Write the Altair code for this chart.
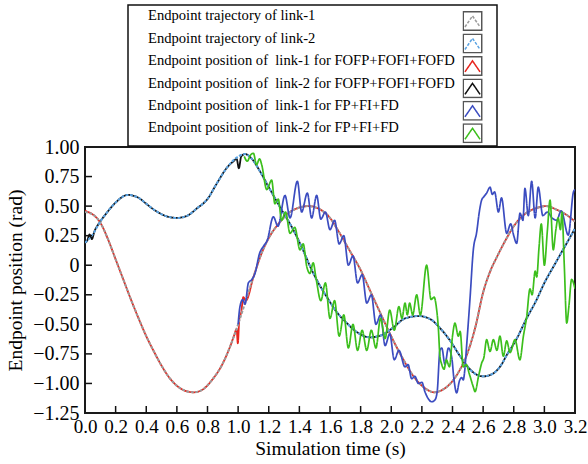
import altair as alt
import pandas as pd

# ---- series (legend order) ----
KEYS = ["traj1", "traj2", "fofp1", "fofp2", "fp1", "fp2"]
SERIES = [
    "Endpoint trajectory of link-1",
    "Endpoint trajectory of link-2",
    "Endpoint position of\u00a0 link-1 for FOFP+FOFI+FOFD",
    "Endpoint position of\u00a0 link-2 for FOFP+FOFI+FOFD",
    "Endpoint position of\u00a0 link-1 for FP+FI+FD",
    "Endpoint position of\u00a0 link-2 for FP+FI+FD",
]
FRAME_KEYS = ["frame-" + k for k in KEYS]
COLORS = ["#9c9c9c", "#5ba3e2", "#e8261e", "#111111", "#3b4cc0", "#3cbf1c"]
DASHES = [[3, 1.5], [3, 1.5], [1, 0], [1, 0], [1, 0], [1, 0]]

# ---- reference trajectory, link-1 ----
traj1_t = [0.00, 0.05, 0.10, 0.15, 0.20, 0.25, 0.30, 0.35, 0.40, 0.45, 0.50, 0.55,
           0.60, 0.65, 0.71, 0.77, 0.83, 0.90, 0.95, 1.00, 1.05, 1.10, 1.15, 1.20,
           1.27, 1.35, 1.46, 1.55, 1.60, 1.65, 1.73, 1.80, 1.86, 1.92, 1.97, 2.03,
           2.08, 2.13, 2.17, 2.22, 2.28, 2.34, 2.40, 2.45, 2.49, 2.55, 2.60, 2.65,
           2.69, 2.75, 2.80, 2.87, 2.94, 3.01, 3.08, 3.14, 3.20]
traj1_v = [0.45, 0.43, 0.36, 0.22, 0.05, -0.12, -0.29, -0.45, -0.60, -0.73, -0.85, -0.95,
           -1.02, -1.06, -1.075, -1.05, -0.97, -0.83, -0.68, -0.50, -0.30, -0.10, 0.09, 0.23,
           0.36, 0.46, 0.50, 0.46, 0.40, 0.30, 0.12, -0.04, -0.21, -0.38, -0.52, -0.68,
           -0.80, -0.91, -0.98, -1.04, -1.075, -1.05, -0.98, -0.88, -0.77, -0.52, -0.23, -0.04,
           0.07, 0.22, 0.33, 0.43, 0.48, 0.50, 0.47, 0.43, 0.37]

# ---- reference trajectory, link-2 ----
traj2_t = [0.00, 0.05, 0.10, 0.14, 0.20, 0.28, 0.35, 0.40, 0.45, 0.52, 0.60, 0.67,
           0.73, 0.80, 0.86, 0.93, 0.99, 1.045, 1.09, 1.14, 1.20, 1.27, 1.36, 1.42,
           1.47, 1.52, 1.58, 1.64, 1.71, 1.78, 1.86, 1.94, 2.01, 2.09, 2.18, 2.26,
           2.31, 2.38, 2.45, 2.50, 2.55, 2.60, 2.66, 2.72, 2.75, 2.82, 2.88, 2.95,
           3.00, 3.06, 3.13, 3.20]
traj2_v = [0.19, 0.26, 0.37, 0.44, 0.53, 0.595, 0.57, 0.52, 0.47, 0.42, 0.40, 0.42,
           0.48, 0.56, 0.69, 0.83, 0.91, 0.94, 0.90, 0.80, 0.66, 0.50, 0.30, 0.14,
           -0.01, -0.14, -0.27, -0.39, -0.49, -0.57, -0.61, -0.59, -0.53, -0.45, -0.43, -0.46,
           -0.52, -0.63, -0.77, -0.86, -0.92, -0.94, -0.92, -0.84, -0.77, -0.62, -0.46, -0.29,
           -0.15, -0.01, 0.15, 0.31]

# ---- FOFP+FOFI+FOFD, link-1 ----
fofp1_t = [0.00, 0.02, 0.05, 0.10, 0.15, 0.20, 0.25, 0.30, 0.35, 0.40, 0.45, 0.50, 0.55,
           0.60, 0.65, 0.71, 0.77, 0.83, 0.90, 0.95, 0.975, 0.99, 0.998, 1.008, 1.02, 1.034,
           1.05, 1.10, 1.15, 1.20, 1.27, 1.35, 1.46, 1.55, 1.60, 1.65, 1.73, 1.80, 1.86,
           1.92, 1.97, 2.03, 2.08, 2.13, 2.17, 2.22, 2.28, 2.34, 2.40, 2.45, 2.49, 2.55,
           2.60, 2.65, 2.69, 2.75, 2.80, 2.87, 2.94, 3.01, 3.08, 3.14, 3.20]
fofp1_v = [0.46, 0.45, 0.43, 0.36, 0.22, 0.05, -0.12, -0.29, -0.45, -0.60, -0.73, -0.85, -0.95,
           -1.02, -1.06, -1.075, -1.05, -0.97, -0.83, -0.68, -0.59, -0.54, -0.66, -0.45, -0.40, -0.27,
           -0.30, -0.10, 0.09, 0.23, 0.36, 0.46, 0.50, 0.46, 0.40, 0.30, 0.12, -0.04, -0.21,
           -0.38, -0.52, -0.68, -0.80, -0.91, -0.98, -1.04, -1.075, -1.05, -0.98, -0.88, -0.77, -0.52,
           -0.23, -0.04, 0.07, 0.22, 0.33, 0.43, 0.48, 0.50, 0.47, 0.43, 0.37]

# ---- FOFP+FOFI+FOFD, link-2 ----
fofp2_t = [0.00, 0.015, 0.03, 0.045, 0.06, 0.10, 0.14, 0.20, 0.28, 0.35, 0.40, 0.45, 0.52,
           0.60, 0.67, 0.73, 0.80, 0.86, 0.93, 0.97, 0.99, 1.005, 1.02, 1.045, 1.09, 1.14,
           1.20, 1.27, 1.36, 1.42, 1.47, 1.52, 1.58, 1.64, 1.71, 1.78, 1.86, 1.94, 2.01,
           2.09, 2.18, 2.26, 2.31, 2.38, 2.45, 2.50, 2.55, 2.60, 2.66, 2.72, 2.75, 2.82,
           2.88, 2.95, 3.00, 3.06, 3.13, 3.20]
fofp2_v = [0.19, 0.21, 0.26, 0.22, 0.28, 0.37, 0.44, 0.53, 0.595, 0.57, 0.52, 0.47, 0.42,
           0.40, 0.42, 0.48, 0.56, 0.69, 0.83, 0.88, 0.90, 0.82, 0.92, 0.94, 0.90, 0.80,
           0.66, 0.50, 0.30, 0.14, -0.01, -0.14, -0.27, -0.39, -0.49, -0.57, -0.61, -0.59, -0.53,
           -0.45, -0.43, -0.46, -0.52, -0.63, -0.77, -0.86, -0.92, -0.94, -0.92, -0.84, -0.77, -0.62,
           -0.46, -0.29, -0.15, -0.01, 0.15, 0.31]

# ---- FP+FI+FD, link-1 ----
fp1_t = [1.00, 1.012, 1.03, 1.045, 1.067, 1.09, 1.11, 1.14, 1.165, 1.19, 1.23, 1.26,
         1.306, 1.339, 1.387, 1.415, 1.452, 1.48, 1.513, 1.54, 1.57, 1.60, 1.63, 1.66,
         1.69, 1.72, 1.75, 1.78, 1.81, 1.84, 1.87, 1.90, 1.93, 1.96, 1.99, 2.02,
         2.05, 2.09, 2.11, 2.133, 2.155, 2.177, 2.20, 2.22, 2.242, 2.264, 2.285, 2.30,
         2.318, 2.33, 2.351, 2.373, 2.395, 2.41, 2.427, 2.445, 2.46, 2.47, 2.48, 2.49,
         2.514, 2.536, 2.558, 2.575, 2.59, 2.605, 2.623, 2.645, 2.66, 2.675, 2.70, 2.72,
         2.754, 2.78, 2.80, 2.819, 2.841, 2.86, 2.873, 2.895, 2.917, 2.94, 2.96, 2.99,
         3.02, 3.05, 3.08, 3.11, 3.156, 3.19, 3.20]
fp1_v = [-0.50, -0.35, -0.29, -0.33, -0.15, -0.12, -0.07, 0.10, 0.16, 0.21, 0.41, 0.33,
         0.59, 0.40, 0.71, 0.45, 0.61, 0.40, 0.59, 0.39, 0.45, 0.30, 0.38, 0.18,
         0.25, 0.00, 0.08, -0.15, -0.08, -0.32, -0.25, -0.50, -0.42, -0.68, -0.58, -0.80,
         -0.72, -0.86, -0.84, -0.96, -0.94, -1.00, -0.99, -1.07, -1.13, -1.155, -1.14, -1.07,
         -0.72, -0.70, -0.84, -0.70, -0.78, -0.97, -1.08, -0.98, -0.95, -0.97, -0.89, -0.72,
         -0.29, 0.13, 0.28, 0.45, 0.55, 0.58, 0.61, 0.66, 0.60, 0.62, 0.45, 0.57,
         0.27, 0.35, 0.25, 0.185, 0.44, 0.38, 0.65, 0.42, 0.71, 0.40, 0.66, 0.42,
         0.45, 0.40, 0.38, 0.46, 0.255, 0.62, 0.64]

# ---- FP+FI+FD, link-2 ----
fp2_t = [1.04, 1.06, 1.08, 1.10, 1.12, 1.14, 1.154, 1.187, 1.219, 1.24, 1.262, 1.284,
         1.31, 1.339, 1.37, 1.404, 1.425, 1.448, 1.469, 1.49, 1.51, 1.54, 1.57, 1.60,
         1.63, 1.66, 1.69, 1.72, 1.75, 1.78, 1.81, 1.84, 1.87, 1.90, 1.93, 1.96,
         1.99, 2.02, 2.05, 2.07, 2.09, 2.105, 2.12, 2.14, 2.166, 2.19, 2.231, 2.26,
         2.28, 2.295, 2.307, 2.318, 2.33, 2.345, 2.36, 2.38, 2.40, 2.416, 2.438, 2.45,
         2.47, 2.49, 2.51, 2.536, 2.547, 2.57, 2.59, 2.605, 2.623, 2.645, 2.667, 2.69,
         2.71, 2.732, 2.754, 2.776, 2.808, 2.84, 2.863, 2.884, 2.906, 2.92, 2.94, 2.95,
         2.965, 2.98, 3.00, 3.02, 3.037, 3.058, 3.075, 3.09, 3.105, 3.115, 3.13, 3.146,
         3.16, 3.178, 3.20]
fp2_v = [0.92, 0.88, 0.93, 0.947, 0.85, 0.90, 0.85, 0.64, 0.72, 0.52, 0.56, 0.38,
         0.45, 0.27, 0.32, 0.13, 0.18, -0.01, -0.07, 0.02, -0.12, -0.30, -0.15, -0.45,
         -0.30, -0.60, -0.42, -0.70, -0.50, -0.72, -0.55, -0.72, -0.55, -0.70, -0.45, -0.62,
         -0.38, -0.55, -0.35, -0.45, -0.32, -0.42, -0.32, -0.42, -0.25, -0.42, 0.00, -0.29,
         -0.27, -0.36, -0.52, -0.77, -0.84, -0.88, -0.80, -0.86, -0.60, -0.49, -0.60, -0.56,
         -0.86, -0.84, -0.92, -1.03, -1.07, -0.94, -0.83, -0.78, -0.63, -0.73, -0.63, -0.72,
         -0.60, -0.77, -0.64, -0.74, -0.63, -0.80, -0.60, -0.44, -0.20, -0.25, -0.05, -0.10,
         0.15, 0.35, 0.00, 0.30, 0.55, 0.13, 0.30, 0.40, 0.30, 0.45, 0.00, -0.49,
         -0.35, -0.12, -0.20]

# ---- axis ticks ----
X_LABELS = [round(0.2 * i, 1) for i in range(17)]
Y_LABELS = [1.0, 0.75, 0.5, 0.25, 0.0, -0.25, -0.5, -0.75, -1.0, -1.25]
X_TICKS = X_LABELS[1:-1]
Y_TICKS = Y_LABELS[1:-1]

FONT = "Liberation Serif"
W, H = 490, 266

# legend glyphs: a caret drawn inside a small frame
CARET = "M-1,-1M1,1M-0.82,0.65L0,-0.55L0.82,0.65"
FRAME = "M-1,-1H1V1H-1Z"
# invisible spacer for the text column: sets the row height and the box width
SPACER = "M0,-1M0,6.8M176.85,0"


def frame(t, v, key):
    return pd.DataFrame({"t": t, "v": v, "key": key})


x_scale = alt.Scale(domain=[0, 3.2], nice=False, zero=False)
y_scale = alt.Scale(domain=[-1.25, 1.0], nice=False, zero=False)
color_scale = alt.Scale(domain=KEYS, range=COLORS)
dash_scale = alt.Scale(domain=KEYS, range=DASHES)

glyph_box = dict(orient="none", title=None, legendX=377.5, legendY=-136,
                 symbolSize=340, symbolStrokeWidth=1.5, rowPadding=2.46, padding=0,
                 clipHeight=20,
                 labelFont=FONT, labelFontSize=14.6, labelExpr="'.'", labelOpacity=0)

# coloured carets
caret_legend = alt.Legend(symbolType=CARET, symbolFillColor="transparent", **glyph_box)
# grey frames around the carets
frame_legend = alt.Legend(symbolStrokeColor="#555555", symbolFillColor="transparent",
                          symbolOpacity=1, **glyph_box)
# entry texts inside the bordered box
text_legend = alt.Legend(orient="none", title=None, legendX=43, legendY=-142,
                         symbolType=SPACER, symbolSize=16, symbolStrokeWidth=0,
                         symbolOpacity=0, symbolFillColor="transparent",
                         rowPadding=0.4, padding=4, strokeColor="#111111",
                         labelFont=FONT, labelFontSize=14.6, labelLimit=420,
                         labelOffset=1.4, labelColor="#000000")

x_enc = alt.X("t:Q", scale=x_scale, axis=alt.Axis(
    title="Simulation time (s)", values=X_LABELS, format=".1f",
    labelFont=FONT, labelFontSize=19, titleFont=FONT, titleFontSize=19.5,
    labelPadding=4, titlePadding=3))
y_enc = alt.Y("v:Q", scale=y_scale, axis=alt.Axis(
    title="Endpoint position (rad)", values=Y_LABELS, labelPadding=6,
    labelFont=FONT, labelFontSize=20, titleFont=FONT, titleFontSize=19.5,
    labelExpr="datum.value == 0 ? '0' : format(datum.value, '.2f')",
    titleX=-70, titleY=H / 2, titleAngle=270, titleAlign="center",
    titleBaseline="middle"))


def line(t, v, key, width):
    return alt.Chart(frame(t, v, key)).mark_line(
        strokeWidth=width, clip=True, interpolate="monotone").encode(
        x=x_enc, y=y_enc,
        color=alt.Color("key:N", scale=color_scale, legend=caret_legend),
        strokeDash=alt.StrokeDash("key:N", scale=dash_scale, legend=caret_legend),
    )


layers = [
    line(fofp1_t, fofp1_v, "fofp1", 1.8),
    line(fofp2_t, fofp2_v, "fofp2", 1.8),
    line(traj1_t, traj1_v, "traj1", 2.0),
    line(traj2_t, traj2_v, "traj2", 2.0),
    line(fp1_t, fp1_v, "fp1", 1.7),
    line(fp2_t, fp2_v, "fp2", 1.7),
]

frames = alt.Chart(pd.DataFrame({"frame": FRAME_KEYS})).mark_point(
    opacity=0, color="#555555").encode(
    shape=alt.Shape("frame:N", scale=alt.Scale(domain=FRAME_KEYS, range=[FRAME] * 6),
                    legend=frame_legend))

texts = alt.Chart(pd.DataFrame({"entry": SERIES})).mark_point(
    opacity=0, filled=True).encode(
    fill=alt.Fill("entry:N", scale=alt.Scale(domain=SERIES, range=COLORS),
                  legend=text_legend))

# inward tick marks
xticks = alt.Chart(pd.DataFrame({"t": X_TICKS})).mark_rule(
    color="#111111", strokeWidth=1.5).encode(
    x=x_enc, y=alt.value(H), y2=alt.value(H - 7))
yticks = alt.Chart(pd.DataFrame({"v": Y_TICKS})).mark_rule(
    color="#111111", strokeWidth=1.5).encode(
    y=y_enc, x=alt.value(0), x2=alt.value(7))

chart = alt.layer(texts, *layers, xticks, yticks, frames).properties(
    width=W, height=H, background="white",
    autosize=alt.AutoSizeParams(type="none"),
    padding={"left": 85, "top": 147, "right": 13, "bottom": 51},
).configure_view(
    stroke="#1a1a1a", strokeWidth=2
).configure_axis(
    tickSize=0, domain=False, grid=False, labelFont=FONT,
    labelColor="#000000", labelFlush=False, labelOverlap=False,
    titleFont=FONT, titleFontWeight="normal", titleColor="#000000",
).configure_legend(strokeWidth=1.5)

chart.save("out.html", embed_options={"renderer": "svg", "actions": False})
